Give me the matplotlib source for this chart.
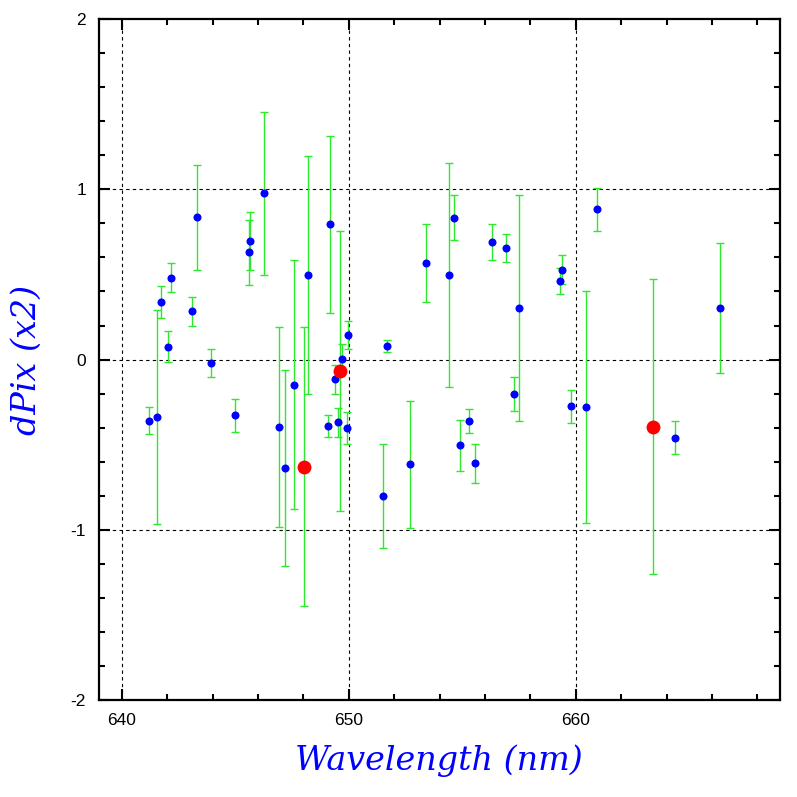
import matplotlib
matplotlib.use("Agg")
import matplotlib.pyplot as plt
from matplotlib.ticker import MultipleLocator

# Blue points: wavelength, dPix, error
blue_x = [641.20, 641.53, 641.72, 642.01, 642.16, 643.10, 643.29, 643.93, 644.99,
          645.58, 645.65, 646.27, 646.93, 647.19, 647.59, 648.21, 649.09, 649.18,
          649.40, 649.53, 649.71, 649.91, 649.97, 651.50, 651.67, 652.71, 653.41,
          654.42, 654.64, 654.88, 655.29, 655.56, 656.29, 656.93, 657.28, 657.50,
          659.31, 659.40, 659.77, 660.47, 660.94, 664.37, 666.36]
blue_y = [-0.36, -0.337, 0.34, 0.075, 0.48, 0.284, 0.835, -0.02, -0.326,
          0.63, 0.696, 0.976, -0.396, -0.637, -0.147, 0.498, -0.392, 0.796,
          -0.116, -0.367, 0.006, -0.402, 0.145, -0.80, 0.08, -0.615, 0.569,
          0.496, 0.833, -0.504, -0.361, -0.61, 0.692, 0.657, -0.204, 0.304,
          0.461, 0.529, -0.275, -0.28, 0.882, -0.459, 0.302]
blue_err = [0.08, 0.63, 0.095, 0.09, 0.085, 0.085, 0.31, 0.083, 0.097,
            0.19, 0.17, 0.48, 0.59, 0.575, 0.73, 0.70, 0.065, 0.52,
            0.085, 0.085, 0.085, 0.094, 0.08, 0.306, 0.033, 0.373, 0.23,
            0.66, 0.133, 0.15, 0.07, 0.115, 0.106, 0.082, 0.10, 0.662,
            0.077, 0.088, 0.097, 0.68, 0.127, 0.097, 0.38]

# Red points
red_x = [648.03, 649.60, 663.42]
red_y = [-0.63, -0.067, -0.394]
red_err = [0.82, 0.82, 0.868]

x_ticks = [640, 650, 660]
y_ticks = [-2, -1, 0, 1, 2]

fig = plt.figure(figsize=(7.97, 7.97), dpi=100)
ax = fig.add_axes([0.1236, 0.1217, 0.9787 - 0.1236, 0.976 - 0.1217])

green = '#2ee82e'
for xs, ys, es in [(blue_x, blue_y, blue_err), (red_x, red_y, red_err)]:
    ax.errorbar(xs, ys, yerr=es, fmt='none', ecolor=green, elinewidth=1.0,
                capsize=2.9, capthick=1.0, zorder=2)

ax.plot(blue_x, blue_y, 'o', color='#0000ff', markersize=5.8, markeredgewidth=0, zorder=3)
ax.plot(red_x, red_y, 'o', color='#ff0000', markersize=10, markeredgewidth=0, zorder=4)

ax.set_xlim(638.97, 669.0)
ax.set_ylim(-2, 2)

for v in x_ticks:
    ax.axvline(v, color='black', lw=0.8, ls=(0, (3, 3)), zorder=1)
for v in [-1, 0, 1]:
    ax.axhline(v, color='black', lw=0.8, ls=(0, (3, 3)), zorder=1)

ax.set_xticks(x_ticks)
ax.set_yticks(y_ticks)
ax.set_yticklabels([str(t) for t in y_ticks])
ax.xaxis.set_minor_locator(MultipleLocator(2))
ax.yaxis.set_minor_locator(MultipleLocator(0.2))
ax.tick_params(which='both', direction='in', top=True, right=True, width=1.5)
ax.tick_params(which='major', length=8, labelsize=12.5, pad=9)
ax.tick_params(which='minor', length=4.5)
for lab in ax.get_xticklabels() + ax.get_yticklabels():
    lab.set_family('Liberation Sans')
for s in ax.spines.values():
    s.set_linewidth(1.6)

lab_font = dict(family='DejaVu Serif', style='italic', size=24, color='#0000ff')
ax.set_xlabel('Wavelength (nm)', labelpad=12, **lab_font)
ax.set_ylabel('dPix (x2)', labelpad=20, **lab_font)

fig.savefig('out.png', dpi=100)
